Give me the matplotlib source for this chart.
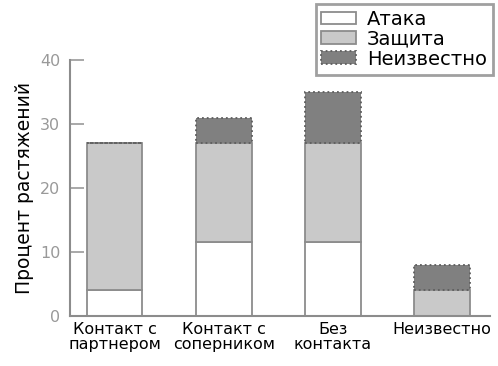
import matplotlib
matplotlib.use("Agg")
import matplotlib.pyplot as plt
import numpy as np

categories = ["Контакт с\nпартнером", "Контакт с\nсоперником", "Без\nконтакта", "Неизвестно"]
attack = [4, 11.5, 11.5, 0]
defense = [23, 15.5, 15.5, 4]
unknown = [0, 4, 8, 4]
series_names = ["Атака", "Защита", "Неизвестно"]
yticks = [0, 10, 20, 30, 40]

plt.rcParams['font.family'] = ['DejaVu Sans']

fig = plt.figure(figsize=(4.98, 3.66), dpi=100)
ax = fig.add_axes([70/498, 50/366, 420/498, 256/366])

x = np.arange(len(categories))
w = 0.51
edge = "#8c8c8c"
b1 = ax.bar(x, attack, w, color="white", edgecolor=edge, linewidth=1.3, label=series_names[0])
b2 = ax.bar(x, defense, w, bottom=attack, color="#c9c9c9", edgecolor=edge, linewidth=1.3, label=series_names[1])
bottom3 = np.array(attack) + np.array(defense)
b3 = ax.bar(x, unknown, w, bottom=bottom3, color="#808080", edgecolor="#5e5e5e", linewidth=1.3,
            linestyle=":", label=series_names[2])

ax.set_xlim(-0.408, 3.44)
ax.set_ylim(0, 40)
ax.set_yticks(yticks)
ax.set_xticks(x)
ax.set_xticklabels(categories, fontsize=11.5, linespacing=1.0)
ax.tick_params(axis='x', length=0, pad=4, colors='black')
ax.tick_params(axis='y', direction='in', length=10, width=1.2, color='#999999',
               labelcolor='#999999', labelsize=11.5, pad=7)
for s in ['top', 'right']:
    ax.spines[s].set_visible(False)
for s in ['left', 'bottom']:
    ax.spines[s].set_color('#8c8c8c')
    ax.spines[s].set_linewidth(1.5)

ax.set_ylabel("Процент растяжений", fontsize=13.5, labelpad=4)

leg = ax.legend(loc='upper right', bbox_to_anchor=(493/498, 1-4/366), bbox_transform=fig.transFigure,
                fontsize=14, frameon=True, fancybox=False, edgecolor='#888888',
                handlelength=1.75, handleheight=0.65, handletextpad=0.6, labelspacing=0.05,
                borderpad=0.3, borderaxespad=0)
leg.get_frame().set_linewidth(2)

fig.savefig("out.png", dpi=100)
